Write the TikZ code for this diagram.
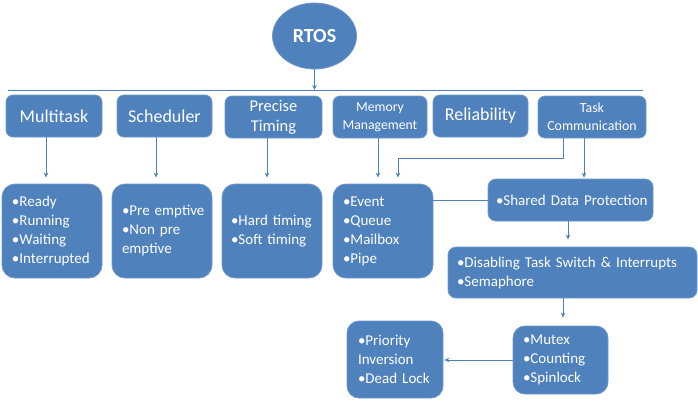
\documentclass[tikz,border=0pt]{standalone}
\usepackage{fontspec}
\setmainfont{Carlito}
\usetikzlibrary{arrows.meta,shapes.geometric}
\definecolor{boxblue}{HTML}{4F81BD}
\definecolor{edgeblue}{HTML}{6E98CC}
\definecolor{lineblue}{HTML}{4F81BD}
\tikzset{
  box/.style={rectangle, rounded corners=7pt, fill=boxblue, draw=edgeblue, line width=0.8pt,
    text=white, inner sep=0pt, align=center},
  topbox/.style={box, minimum height=42pt, font=\fontsize{18}{20}\selectfont},
  listbox/.style={box, rounded corners=13pt, align=left, font=\fontsize{15}{19}\selectfont},
  conn/.style={draw=lineblue, line width=0.9pt},
  arr/.style={conn, -{Stealth[length=5pt,width=4.5pt]}},
}
\begin{document}
\begin{tikzpicture}[x=1pt,y=-1pt]
\useasboundingbox (0,0) rectangle (698,400);
% root
\node[ellipse, fill=boxblue, draw=edgeblue, line width=0.8pt, minimum width=84pt, minimum height=66pt,
  inner sep=0pt, text=white, font=\fontsize{20}{22}\selectfont\bfseries] (rtos) at (314.5,36) {RTOS};
\coordinate (barL) at (8,90);
\coordinate (barR) at (643,90);
% top row
\node[topbox, minimum width=96pt] (multi) at (54,116) {Multitask};
\node[topbox, minimum width=95pt] (sched) at (164.5,116) {Scheduler};
\node[topbox, minimum width=97pt, font=\fontsize{16.5}{20}\selectfont] (timing) at (273.5,117) {Precise\\Timing};
\node[topbox, minimum width=94pt, font=\fontsize{13.7}{18}\selectfont] (mem) at (380,117) {Memory\\Management};
\node[topbox, minimum width=95pt] (rel) at (480.5,116) {Reliability};
\node[topbox, minimum width=108pt, font=\fontsize{13.9}{18}\selectfont] (taskc) at (592,117) {Task\\Communication};
% second row
\node[listbox, minimum width=100pt, minimum height=94pt, text width=80pt] (ready) at (52,231)
  {\mbox{•Ready}\\\mbox{•Running}\\\mbox{•Waiting}\\\mbox{•Interrupted}};
\node[listbox, minimum width=100pt, minimum height=94pt, text width=80pt] (preempt) at (162,231)
  {\mbox{•Pre emptive}\\\mbox{•Non pre}\\\mbox{emptive}};
\node[listbox, minimum width=100pt, minimum height=94pt, text width=82pt] (hard) at (272,231)
  {\mbox{•Hard timing}\\\mbox{•Soft timing}};
\node[listbox, minimum width=100pt, minimum height=94pt, text width=80pt] (event) at (383,231)
  {\mbox{•Event}\\\mbox{•Queue}\\\mbox{•Mailbox}\\\mbox{•Pipe}};
\node[listbox, rounded corners=8pt, minimum width=165pt, minimum height=42pt, text width=149pt] (shared) at (570.5,200)
  {\mbox{•Shared Data Protection}};
\node[listbox, rounded corners=8pt, minimum width=249pt, minimum height=51pt, text width=231pt] (disab) at (572.5,272.5)
  {\mbox{•Disabling Task Switch \& Interrupts}\\\mbox{•Semaphore}};
\node[listbox, rounded corners=12pt, minimum width=95pt, minimum height=68pt, text width=75pt] (mutex) at (560.5,360)
  {\mbox{•Mutex}\\\mbox{•Counting}\\\mbox{•Spinlock}};
\node[listbox, rounded corners=12pt, minimum width=96pt, minimum height=77pt, text width=74pt] (prio) at (395,359.5)
  {\mbox{•Priority}\\\mbox{Inversion}\\\mbox{•Dead Lock}};
% connectors
\draw[conn] (barL) -- (barR);
\draw[arr] (rtos.south) -- (rtos.south |- barL);
\coordinate (a1) at ([xshift=-8pt]multi.south);
\draw[arr, shorten >=6pt] (a1) -- (a1 |- ready.north);
\coordinate (a2) at ([xshift=-8.5pt]sched.south);
\draw[arr, shorten >=6pt] (a2) -- (a2 |- preempt.north);
\coordinate (a3) at ([xshift=-6.5pt]timing.south);
\draw[arr, shorten >=6pt] (a3) -- (a3 |- hard.north);
\coordinate (a4) at ([xshift=-2pt]mem.south);
\draw[arr, shorten >=6pt] (a4) -- (a4 |- event.north);
\coordinate (t1) at ([xshift=-29pt]taskc.south);
\coordinate (tbend) at (398,158);
\draw[arr, shorten >=6pt] (t1) |- (tbend) -- (tbend |- event.north);
\coordinate (t2) at ([xshift=-8pt]taskc.south);
\draw[arr, shorten >=1pt] (t2) -- (t2 |- shared.north);
\draw[conn] (event.east |- shared.west) -- (shared.west);
\coordinate (s1) at ([xshift=-2.5pt]shared.south);
\draw[arr, shorten >=7pt] (s1) -- (s1 |- disab.north);
\coordinate (d1) at ([xshift=-9.5pt]disab.south);
\draw[arr, shorten >=8pt] (d1) -- (d1 |- mutex.north);
\draw[arr, shorten >=1pt] (mutex.west) -- (mutex.west -| prio.east);
\end{tikzpicture}
\end{document}
